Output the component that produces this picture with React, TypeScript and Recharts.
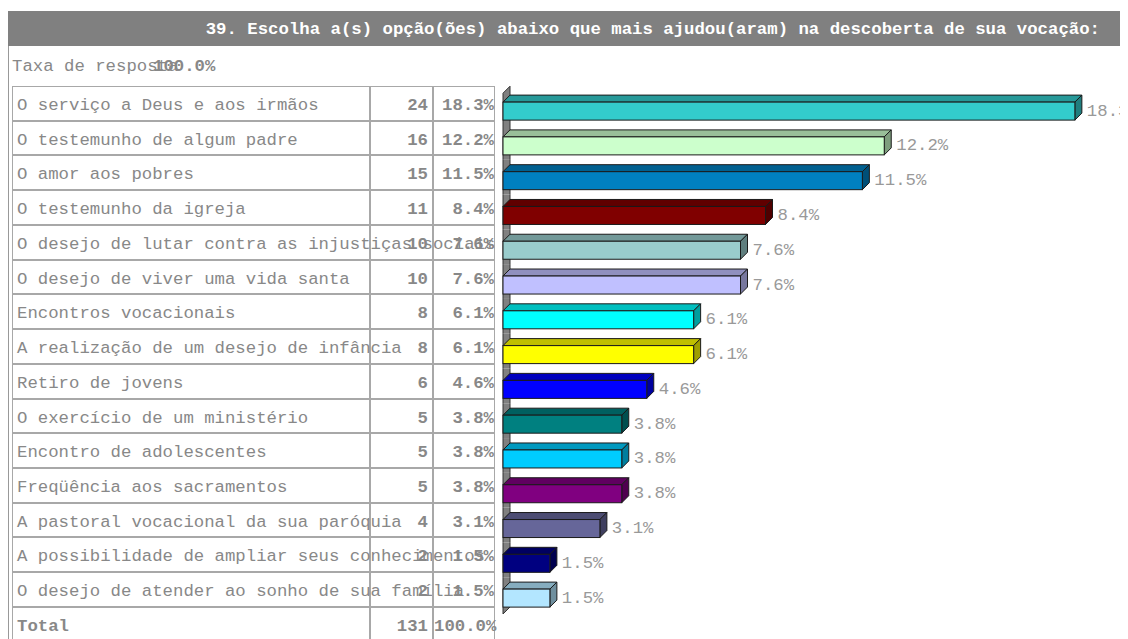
import React from 'react';
import { BarChart, Bar, XAxis, YAxis, LabelList } from 'recharts';

// 질문 제목과 응답률
const title = '39. Escolha a(s) opção(ões) abaixo que mais ajudou(aram) na descoberta de sua vocação:';
const responseRate = '100.0%';

// 항목 (표 + 막대)
const labels = [
  'O serviço a Deus e aos irmãos',
  'O testemunho de algum padre',
  'O amor aos pobres',
  'O testemunho da igreja',
  'O desejo de lutar contra as injustiças sociais',
  'O desejo de viver uma vida santa',
  'Encontros vocacionais',
  'A realização de um desejo de infância',
  'Retiro de jovens',
  'O exercício de um ministério',
  'Encontro de adolescentes',
  'Freqüência aos sacramentos',
  'A pastoral vocacional da sua paróquia',
  'A possibilidade de ampliar seus conhecimentos',
  'O desejo de atender ao sonho de sua família',
];
const counts = [24, 16, 15, 11, 10, 10, 8, 8, 6, 5, 5, 5, 4, 2, 2];
const percents = [18.3, 12.2, 11.5, 8.4, 7.6, 7.6, 6.1, 6.1, 4.6, 3.8, 3.8, 3.8, 3.1, 1.5, 1.5];
const totalCount = 131;
const totalPercent = '100.0%';

// 막대 색상 (앞면)
const palette = [
  '#33CCCC', '#CCFFCC', '#0080C0', '#800000', '#99CCCC',
  '#C0C0FF', '#00FFFF', '#FFFF00', '#0000FF', '#008080',
  '#00CCFF', '#800080', '#666699', '#000080', '#B3E6FF',
];

const FONT = "'Courier New', 'Liberation Mono', monospace";
const FS = 17.33;
const ROW_H = 34.73;
const DEPTH = 7;
const BAR_SIZE = 25;
const PLOT_H = 521.8;
const BAND = PLOT_H / labels.length;
const GAP = (BAND - BAR_SIZE) / 2;

function shade(hex: string, k: number) {
  const n = parseInt(hex.slice(1), 16);
  const r = Math.round(((n >> 16) & 255) * k);
  const g = Math.round(((n >> 8) & 255) * k);
  const b = Math.round((n & 255) * k);
  return `rgb(${r},${g},${b})`;
}

const rows = labels.map((label, i) => ({ label, count: counts[i], pct: percents[i] }));

// 3D 막대 + 해당 구간의 뒷벽
function Bar3D(props: any) {
  const { x, y, width, height, index } = props;
  const c = palette[index % palette.length];
  const d = DEPTH;
  const fh = height - d;
  const last = index === labels.length - 1;
  const yt = y - GAP;
  const yb = y + height + GAP;
  const lt = index === 0 ? yt + 3 : yt;
  const rt = index === 0 ? yt - 4 : yt;
  const lb = last ? yb + 2 : yb;
  const rb = last ? yb - 5 : yb;
  return (
    <g>
      <polygon points={`${x},${lt} ${x + d},${rt} ${x + d},${rb} ${x},${lb}`} fill="#808080" />
      <g stroke="#333" strokeWidth={1} fill="none">
        <line x1={x} y1={lt} x2={x} y2={lb} />
        <line x1={x + d} y1={rt} x2={x + d} y2={rb} />
        {index === 0 && <line x1={x} y1={lt} x2={x + d} y2={rt} />}
        {last && <line x1={x} y1={lb} x2={x + d} y2={rb} />}
      </g>
      <g stroke="#1a1a1a" strokeWidth={1}>
        <polygon
          points={`${x},${y + d} ${x + d},${y} ${x + width + d},${y} ${x + width},${y + d}`}
          fill={shade(c, 0.75)}
        />
        <polygon
          points={`${x + width},${y + d} ${x + width + d},${y} ${x + width + d},${y + fh} ${x + width},${y + height}`}
          fill={shade(c, 0.62)}
        />
        <rect x={x} y={y + d} width={width} height={fh} fill={c} />
      </g>
    </g>
  );
}

function ValueLabel(props: any) {
  const { x, y, width, height, value } = props;
  return (
    <text
      x={x + width + DEPTH + 5}
      y={y + DEPTH + (height - DEPTH) / 2}
      dominantBaseline="central"
      fill="#999"
      fontFamily={FONT}
      fontSize={FS}
    >
      {`${Number(value).toFixed(1)}%`}
    </text>
  );
}

const cellBase: React.CSSProperties = {
  position: 'absolute',
  boxSizing: 'border-box',
  border: '1px solid #a8a8a8',
  height: ROW_H,
  paddingTop: 3,
  lineHeight: `${ROW_H - 2}px`,
  whiteSpace: 'nowrap',
  overflow: 'visible',
  color: '#888',
  fontSize: FS,
};

function TableRow({ top, label, count, pct, bold }: any) {
  return (
    <>
      <div style={{ ...cellBase, top, left: 4, width: 358, paddingLeft: 4, fontWeight: bold ? 'bold' : 'normal' }}>
        {label}
      </div>
      <div style={{ ...cellBase, top, left: 362, width: 63, textAlign: 'right', paddingRight: 4, fontWeight: 'bold' }}>
        {count}
      </div>
      <div style={{ ...cellBase, top, left: 425, width: 62, textAlign: 'right', paddingRight: 0, fontWeight: 'bold' }}>
        {pct}
      </div>
    </>
  );
}

export default function App() {
  return (
    <div
      style={{
        position: 'relative',
        width: 1120,
        height: 631,
        overflow: 'hidden',
        fontFamily: FONT,
        background: '#fff',
      }}
    >
      {/* 제목 바 */}
      <div
        style={{
          position: 'absolute',
          left: 0,
          top: 3,
          width: 1120,
          height: 35,
          background: '#808080',
          color: '#fff',
          fontWeight: 'bold',
          fontSize: FS,
          lineHeight: '38px',
          textAlign: 'right',
          paddingRight: 28,
          boxSizing: 'border-box',
          whiteSpace: 'nowrap',
        }}
      >
        {title}
      </div>
      {/* 왼쪽 세로선 */}
      <div style={{ position: 'absolute', left: 0, top: 38, width: 1, height: 600, background: '#999' }} />

      {/* 응답률 */}
      <div style={{ position: 'absolute', left: 4, top: 49, lineHeight: '20px', fontSize: FS, color: '#888', whiteSpace: 'nowrap' }}>
        Taxa de resposta
      </div>
      <div style={{ position: 'absolute', left: 145, top: 49, lineHeight: '20px', fontSize: FS, color: '#888', fontWeight: 'bold' }}>
        {responseRate}
      </div>

      {/* 표 */}
      {rows.map((r, i) => (
        <TableRow key={r.label} top={78 + i * ROW_H} label={r.label} count={r.count} pct={`${r.pct.toFixed(1)}%`} />
      ))}
      <TableRow top={78 + rows.length * ROW_H} label="Total" count={totalCount} pct={totalPercent} bold />

      {/* 막대 차트 */}
      <div style={{ position: 'absolute', left: 487, top: 72 }}>
        <BarChart
          width={633}
          height={10.1 + PLOT_H + 10}
          data={rows}
          layout="vertical"
          margin={{ top: 10.1, right: 0, bottom: 10, left: 8 }}
          barSize={BAR_SIZE}
        >
          <XAxis type="number" domain={[0, 20]} hide />
          <YAxis type="category" dataKey="label" hide />
          <Bar dataKey="pct" shape={<Bar3D />} isAnimationActive={false}>
            <LabelList dataKey="pct" content={<ValueLabel />} />
          </Bar>
        </BarChart>
      </div>
    </div>
  );
}
